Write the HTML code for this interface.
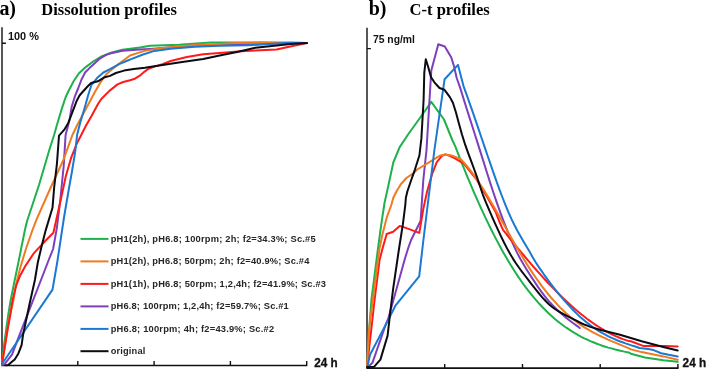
<!DOCTYPE html>
<html><head><meta charset="utf-8"><style>
html,body{margin:0;padding:0;background:#fff;width:707px;height:369px;overflow:hidden}
svg{display:block;will-change:transform}
.lg{font-family:"Liberation Sans",sans-serif;font-weight:bold;font-size:9.9px;fill:#262626}
.ax{font-family:"Liberation Sans",sans-serif;font-weight:bold;font-size:10.8px;fill:#111}
.ttl{font-family:"Liberation Serif",serif;font-weight:bold;fill:#000}
</style></head><body>
<svg width="707" height="369" viewBox="0 0 707 369">
<g stroke="#111" stroke-width="1.4" fill="none">
<path d="M2,27.2 V365.5 H306.7 V361 M5.9,43.3 H2 M77.8,365.5 V361 M154.1,365.5 V361 M230.4,365.5 V361"/>
<path d="M367,27.8 V368 M370.9,48.6 H367 M444.7,368 V364 M522.5,368 V364 M600.2,368 V364 M677.9,368 V364"/>
<path d="M366.3,368.1 H678.6" stroke-width="1.8"/>
</g>
<g fill="none" stroke-width="2.0" stroke-linejoin="round" stroke-linecap="round">
<polyline points="2.0,364.0 4.2,344.0 8.3,314.3 10.7,300.0 14.5,281.2 19.2,258.5 24.9,230.0 27.1,221.0 39.0,185.0 49.3,150.0 54.1,135.0 57.5,122.9 61.6,109.4 65.6,97.2 68.8,90.5 73.6,81.3 79.0,73.2 85.7,67.1 93.9,61.0 102.0,56.2 112.0,52.4 122.4,49.8 140.0,47.6 150.0,45.8 179.0,44.8 211.0,42.6 230.0,42.4 260.0,42.6 290.0,42.8 307.0,43.0" stroke="#1fb14c"/>
<polyline points="2.0,365.0 4.8,363.9 12.0,354.7 17.7,339.7 41.0,280.0 48.7,260.0 53.1,249.0 56.8,228.4 60.3,200.0 63.7,166.0 65.6,135.0 67.0,129.7 69.7,118.9 71.7,106.7 75.1,95.8 78.3,88.0 81.5,79.5 85.1,72.5 91.2,66.4 99.3,58.9 106.1,54.9 110.0,53.5 122.4,50.8 140.0,49.6 150.0,49.0 162.5,48.0 195.0,45.6 230.0,44.2 307.0,43.0" stroke="#7d3fbe"/>
<polyline points="2.0,364.0 5.0,345.0 9.2,318.0 13.5,300.0 15.4,286.9 20.2,268.0 25.9,249.0 32.5,230.0 36.9,218.6 50.5,188.0 63.4,159.9 72.4,135.0 77.0,125.5 81.9,116.2 90.0,101.3 94.6,92.5 100.7,82.0 106.1,74.5 110.0,71.1 117.5,64.9 124.0,60.0 130.0,55.5 138.1,52.9 146.3,50.4 162.5,48.0 195.0,45.1 220.0,43.9 235.0,43.0 260.0,42.6 290.0,42.8 307.0,43.0" stroke="#ef7b21"/>
<polyline points="2.0,364.0 5.3,344.0 7.5,330.0 10.4,314.3 12.6,300.0 16.4,285.0 20.2,275.5 25.9,265.1 33.5,253.7 43.0,243.3 53.4,232.8 61.8,195.0 65.8,176.3 71.3,157.3 76.7,143.8 81.2,135.0 85.9,125.7 91.4,116.2 98.0,104.0 101.3,99.0 109.4,90.9 117.5,84.4 123.2,82.0 130.0,80.3 134.9,78.7 139.8,75.7 144.6,71.6 148.5,68.8 154.4,66.6 162.5,64.2 170.7,61.0 186.9,57.0 203.2,54.2 219.4,52.9 241.2,51.2 255.4,50.5 276.6,49.5 287.9,47.0 307.0,43.0" stroke="#ff1a1a"/>
<polyline points="2.0,364.0 52.5,289.6 57.2,262.5 64.0,217.5 69.1,187.5 72.1,170.7 75.3,151.2 77.1,135.0 80.5,121.6 84.6,108.0 88.0,95.8 91.3,85.2 97.9,77.2 103.4,72.5 110.0,69.1 119.1,64.1 128.9,60.0 130.5,59.4 143.0,54.5 154.4,50.9 170.7,48.8 195.0,46.7 220.0,45.8 248.3,45.3 276.6,43.4 290.0,42.8 307.0,43.0" stroke="#1b79d3"/>
<polyline points="6.0,365.3 8.3,364.9 11.0,362.6 14.7,359.4 18.4,353.4 21.6,345.1 23.0,335.0 29.5,304.3 34.9,280.0 37.8,262.5 41.2,247.9 45.6,230.6 52.5,207.8 54.2,187.0 56.9,164.2 59.0,135.6 64.3,129.7 68.3,122.9 72.4,112.1 76.5,101.3 79.5,95.5 83.0,91.5 88.0,86.0 91.2,83.0 97.9,81.3 104.7,77.2 110.0,75.9 115.9,73.0 124.0,70.6 133.8,68.9 145.0,67.8 154.4,66.2 178.8,62.6 203.2,59.1 219.7,55.6 237.0,51.9 255.4,47.7 276.6,45.6 290.7,44.1 307.0,43.0" stroke="#0b0b14"/>
<polyline points="367.0,367.0 367.5,360.0 369.5,325.0 371.5,299.2 377.8,250.0 381.3,224.2 384.5,203.0 388.5,185.0 393.3,162.5 399.7,147.1 408.4,134.0 419.2,119.0 431.3,101.8 444.0,119.5 452.3,140.0 455.3,146.4 458.3,154.2 461.3,161.8 464.3,169.2 467.3,176.6 470.3,183.7 473.3,190.8 476.3,197.7 479.3,204.4 482.3,210.9 485.3,217.4 488.3,223.6 491.3,229.7 494.3,235.6 497.3,241.4 500.3,247.0 503.3,252.4 506.3,257.6 509.3,262.7 512.3,267.6 515.3,272.3 518.3,276.9 521.3,281.2 524.3,285.4 527.3,289.4 530.3,293.2 533.3,296.9 536.3,300.4 539.3,303.8 542.3,307.0 545.3,310.0 548.3,313.0 551.3,315.7 554.3,318.4 557.3,320.9 560.3,323.3 563.3,325.5 566.3,327.7 569.3,329.7 572.3,331.6 575.3,333.4 578.3,335.2 581.3,336.8 584.3,338.3 587.3,339.7 590.3,341.1 593.3,342.3 596.3,343.5 599.3,344.6 602.3,345.7 605.3,346.7 608.3,347.6 611.3,348.4 614.3,349.3 617.3,350.0 620.3,350.7 623.3,351.4 626.3,352.1 629.3,352.7 630.8,353.7 644.9,357.5 663.3,360.2 677.7,361.8" stroke="#1fb14c"/>
<polyline points="368.4,366.8 372.4,362.8 385.6,325.0 388.4,318.0 399.7,277.5 405.1,258.0 408.4,247.5 411.1,240.0 420.6,221.0 423.3,180.0 426.5,150.0 429.5,100.0 431.3,70.5 438.3,44.3 444.8,46.5 451.3,57.5 454.0,66.2 456.7,78.0 460.3,88.1 463.3,97.9 466.3,107.5 469.3,116.9 472.3,126.3 475.3,135.7 478.3,145.1 481.3,154.6 484.3,164.1 487.3,173.7 490.3,183.1 493.3,192.2 496.3,201.1 499.3,209.6 502.3,217.8 505.3,225.5 508.3,233.0 511.3,240.2 514.3,246.9 517.3,253.1 520.3,258.8 523.3,264.1 526.3,269.0 529.3,273.8 532.3,278.4 535.3,282.9 538.3,287.4 541.3,291.6 544.3,295.6 547.3,299.3 550.3,302.8 553.3,306.0 556.3,309.0 559.3,311.9 562.3,314.5 565.3,317.1 568.3,319.5 571.3,321.8 574.3,324.0 577.3,326.1 579.7,328.1" stroke="#7d3fbe"/>
<polyline points="367.0,367.0 371.8,325.0 374.2,303.0 379.6,260.0 382.8,247.5 386.7,234.0 393.2,231.8 399.7,225.9 405.0,227.6 419.3,232.9 423.4,208.5 427.1,191.5 432.0,174.4 436.8,162.2 441.7,156.1 445.4,154.4 449.6,155.8 454.5,158.2 463.9,163.7 470.4,171.8 476.9,179.9 483.4,191.3 486.6,196.1 491.5,204.8 495.8,212.3 499.5,222.0 503.0,229.8 505.9,233.3 508.9,237.3 511.9,241.0 514.9,244.7 517.9,248.3 520.9,252.0 523.9,255.5 526.9,259.1 529.9,262.6 532.9,266.1 535.9,269.5 538.9,272.9 541.9,276.2 544.9,279.5 547.9,282.7 550.9,285.8 553.9,288.9 556.9,292.0 559.9,295.0 562.9,297.9 565.9,300.8 568.9,303.5 571.9,306.3 574.9,308.9 577.9,311.4 580.9,313.9 583.9,316.3 586.9,318.7 589.9,320.9 592.9,323.0 595.9,325.1 598.9,327.0 601.9,328.9 604.9,330.7 607.9,332.3 610.9,333.9 613.9,335.4 616.9,336.7 619.9,338.0 622.9,339.1 625.9,340.1 628.9,341.1 630.8,341.3 643.8,346.1 652.5,346.1 665.5,346.1 677.7,346.5" stroke="#ff1a1a"/>
<polyline points="367.0,367.0 369.0,330.0 379.6,248.0 382.3,235.0 386.7,217.7 391.3,205.0 393.4,197.5 396.7,191.0 401.0,184.0 406.4,178.0 412.9,173.7 417.2,169.5 429.4,162.2 440.4,155.4 445.2,154.4 451.5,155.4 458.0,157.9 461.0,159.5 464.0,162.6 467.0,166.1 470.0,169.8 473.0,173.8 476.0,178.0 479.0,182.5 482.0,187.1 485.0,191.9 488.0,196.8 491.0,201.9 494.0,207.1 497.0,212.3 500.0,217.6 503.0,222.9 506.0,228.3 509.0,233.7 512.0,239.0 515.0,244.3 518.0,249.5 521.0,254.6 524.0,259.6 527.0,264.4 530.0,269.1 533.0,273.6 536.0,278.0 539.0,282.2 542.0,286.3 545.0,290.2 548.0,293.9 551.0,297.5 554.0,300.9 557.0,304.2 560.0,307.4 563.0,310.3 566.0,313.2 569.0,315.8 572.0,318.4 575.0,320.7 578.0,323.0 581.0,325.1 584.0,327.1 587.0,328.9 590.0,330.7 593.0,332.3 596.0,333.9 599.0,335.4 602.0,336.9 605.0,338.2 608.0,339.6 611.0,340.9 614.0,342.1 617.0,343.4 620.0,344.6 623.0,345.9 626.0,347.1 629.0,348.4 630.8,349.4 641.7,352.1 652.5,354.3 663.3,356.4 677.7,359.7" stroke="#ef7b21"/>
<polyline points="367.6,366.0 370.0,354.8 385.6,325.0 388.8,318.7 395.4,305.7 419.2,276.4 423.4,240.0 434.4,150.0 444.6,79.2 458.0,64.9 463.5,86.1 466.5,94.4 469.5,102.8 472.5,111.4 475.5,120.1 478.5,128.9 481.5,137.8 484.5,146.6 487.5,155.5 490.5,164.2 493.5,172.8 496.5,181.3 499.5,189.6 502.5,197.5 505.5,205.1 508.5,212.3 511.5,219.1 514.5,225.3 517.5,231.0 520.5,236.3 523.5,241.4 526.5,246.5 529.5,251.6 532.5,256.9 535.5,262.0 538.5,266.6 541.5,270.9 544.5,275.2 547.5,279.3 550.5,283.4 553.5,287.3 556.5,291.1 559.5,294.8 562.5,298.4 565.5,301.9 568.5,305.2 571.5,308.4 574.5,311.5 577.5,314.4 580.5,317.2 583.5,319.8 586.5,322.3 589.5,324.6 592.5,326.8 595.5,328.8 598.5,330.8 601.5,332.6 604.5,334.2 607.5,335.8 610.5,337.3 613.5,338.7 616.5,340.0 619.5,341.2 622.5,342.3 625.5,343.4 628.5,344.4 631.5,345.4 634.5,346.3 637.5,347.2 639.5,348.0 648.2,349.0 653.6,350.1 661.2,353.2 668.8,354.8 677.7,356.4" stroke="#1b79d3"/>
<polyline points="367.0,367.0 374.0,366.8 380.4,359.6 387.6,335.6 390.5,310.0 393.2,288.4 399.2,247.5 402.9,224.2 405.3,205.0 405.9,197.5 407.5,191.0 410.8,181.3 415.0,169.3 419.4,155.5 421.4,138.4 422.2,124.2 423.6,100.0 424.3,72.5 425.8,59.2 427.9,66.0 431.1,77.4 434.4,82.3 439.5,88.0 444.5,89.8 449.9,97.1 452.9,102.8 455.9,112.3 458.9,123.4 461.9,134.3 464.9,143.9 467.9,152.4 470.9,160.4 473.9,168.5 476.9,176.9 479.9,186.0 482.9,194.8 485.9,202.4 488.9,209.4 491.9,216.3 494.9,223.1 497.9,229.7 500.9,236.1 503.9,242.3 506.9,248.1 509.9,253.6 512.9,258.6 515.9,263.2 518.9,267.5 521.9,271.6 524.9,275.5 527.9,279.4 530.9,283.3 533.9,287.1 536.9,290.9 539.9,294.6 542.9,298.1 545.9,301.3 548.9,304.2 551.9,306.7 554.9,309.0 557.9,310.9 560.9,312.7 563.9,314.3 566.9,315.9 569.9,317.3 572.9,318.8 575.9,320.4 578.9,322.0 581.9,323.5 584.9,324.8 587.9,325.9 589.6,326.6 600.8,330.0 620.0,334.8 641.7,341.3 663.3,347.0 677.7,350.5" stroke="#0b0b14"/>
</g>
<line x1="80.5" y1="238.9" x2="108.5" y2="238.9" stroke="#1fb14c" stroke-width="2"/>
<text transform="translate(110.7,241.9) scale(0.940,1)" class="lg" textLength="218.0" lengthAdjust="spacing">pH1(2h), pH6.8; 100rpm; 2h; f2=34.3%; Sc.#5</text>
<line x1="80.5" y1="261.4" x2="108.5" y2="261.4" stroke="#ef7b21" stroke-width="2"/>
<text transform="translate(110.7,264.4) scale(0.940,1)" class="lg" textLength="211.3" lengthAdjust="spacing">pH1(2h), pH6.8; 50rpm; 2h; f2=40.9%; Sc.#4</text>
<line x1="80.5" y1="283.9" x2="108.5" y2="283.9" stroke="#ff1a1a" stroke-width="2"/>
<text transform="translate(110.7,286.9) scale(0.940,1)" class="lg" textLength="229.1" lengthAdjust="spacing">pH1(1h), pH6.8; 50rpm; 1,2,4h; f2=41.9%; Sc.#3</text>
<line x1="80.5" y1="306.4" x2="108.5" y2="306.4" stroke="#7d3fbe" stroke-width="2"/>
<text transform="translate(110.7,309.4) scale(0.940,1)" class="lg" textLength="189.4" lengthAdjust="spacing">pH6.8; 100rpm; 1,2,4h; f2=59.7%; Sc.#1</text>
<line x1="80.5" y1="328.9" x2="108.5" y2="328.9" stroke="#1b79d3" stroke-width="2"/>
<text transform="translate(110.7,331.9) scale(0.940,1)" class="lg" textLength="173.8" lengthAdjust="spacing">pH6.8; 100rpm; 4h; f2=43.9%; Sc.#2</text>
<line x1="80.5" y1="351.2" x2="108.5" y2="351.2" stroke="#0b0b14" stroke-width="2"/>
<text transform="translate(110.7,354.2) scale(0.940,1)" class="lg" textLength="36.8" lengthAdjust="spacing">original</text>
<text x="7.9" y="39.8" class="ax" textLength="31" lengthAdjust="spacingAndGlyphs">100 %</text>
<text x="372.9" y="42.8" class="ax" style="font-size:10.6px" textLength="42.1" lengthAdjust="spacingAndGlyphs">75 ng/ml</text>
<text x="314.2" y="367.3" class="ax" style="font-size:11.9px;stroke:#111;stroke-width:0.3" textLength="23.4" lengthAdjust="spacingAndGlyphs">24 h</text>
<text x="682.6" y="367.3" class="ax" style="font-size:11.9px;stroke:#111;stroke-width:0.3" textLength="23.6" lengthAdjust="spacingAndGlyphs">24 h</text>
<text x="-0.6" y="14.7" class="ttl" style="font-size:20px" textLength="16.6" lengthAdjust="spacing">a)</text>
<text x="41.3" y="14.6" class="ttl" style="font-size:16.5px" textLength="135.7" lengthAdjust="spacingAndGlyphs">Dissolution profiles</text>
<text x="368.8" y="14.5" class="ttl" style="font-size:20px" textLength="17.6" lengthAdjust="spacing">b)</text>
<text x="409.5" y="14.9" class="ttl" style="font-size:16.7px" textLength="80.2" lengthAdjust="spacingAndGlyphs">C-t profiles</text>
</svg>
</body></html>
